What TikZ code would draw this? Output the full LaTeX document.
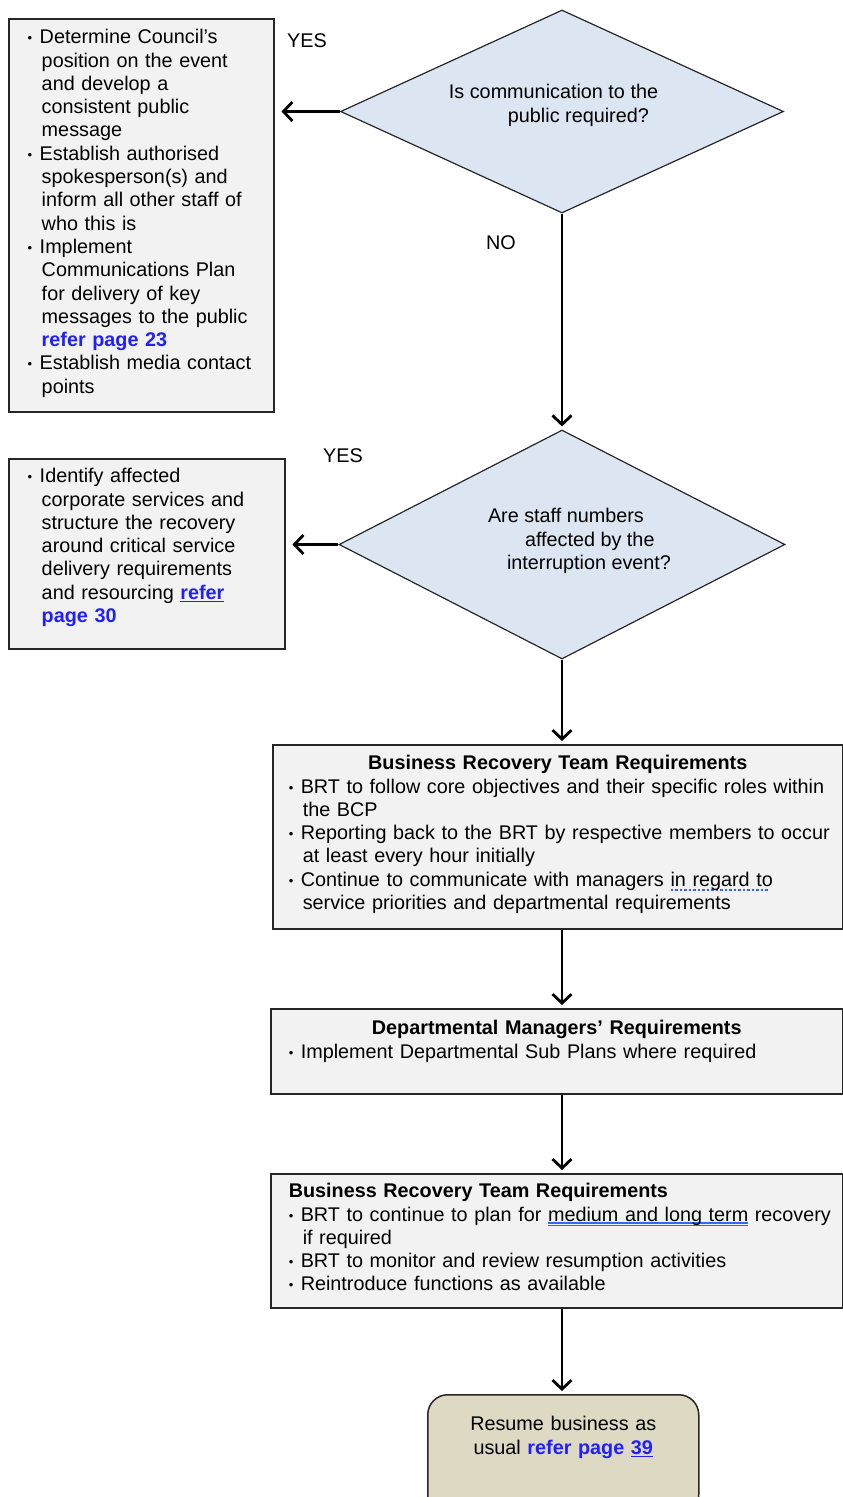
\documentclass[tikz,border=0pt]{standalone}
\usepackage{fontspec}
\setmainfont{Liberation Sans}
\usetikzlibrary{shapes.geometric,arrows.meta}
\definecolor{panelgray}{HTML}{F2F2F2}
\definecolor{askblue}{HTML}{DCE6F2}
\definecolor{resumetan}{HTML}{DDD9C3}
\definecolor{linkblue}{HTML}{1F1FFF}
\definecolor{markblue}{HTML}{3366FF}
\newcommand{\pad}[1]{\leftskip=#1\relax}
\newcommand{\itmhead}{\hangindent=14pt\hangafter=1\noindent\makebox[12pt][l]{\raisebox{1pt}{\fontsize{13}{13}\selectfont •}}}
\newcommand{\itm}{\par\itmhead}
\newcommand{\lnk}[1]{\textcolor{linkblue}{\bfseries #1}}
\newcommand{\ulnk}[1]{\setbox0=\hbox{#1}\rlap{\textcolor{linkblue}{\rule[-3pt]{\wd0}{1.2pt}}}\box0\relax}
\newcommand{\dblul}[1]{\setbox0=\hbox{#1}\rlap{\textcolor{markblue}{\rule[-2.5pt]{\wd0}{1.3pt}}}\rlap{\textcolor{markblue}{\rule[-5.3pt]{\wd0}{1.3pt}}}\box0\relax}
\newcommand{\dotul}[1]{\setbox0=\hbox{#1}\rlap{\textcolor{markblue}{\hbox to \wd0{\leaders\hbox{\rule[-4.5pt]{2.5pt}{2pt}\kern2pt}\hfill}}}\box0\relax}

\begin{document}
\begin{tikzpicture}[x=1pt,y=-1pt,
    txt/.style={font=\fontsize{19.8}{23.3}\selectfont},
    panel/.style={txt,draw=black!85,line width=1.5pt,fill=panelgray,anchor=north west,inner sep=0pt,align=left},
    ask/.style={diamond,draw=black!85,line width=1.2pt,fill=askblue,inner sep=0pt},
    asktext/.style={txt,align=left,inner sep=0pt},
    resume/.style={txt,draw=black!85,line width=1.5pt,fill=resumetan,rounded corners=20pt,anchor=north west,inner sep=0pt,align=center},
    flow/.style={line width=2.8pt,-{Straight Barb[length=9pt,width=19pt]}}]
\useasboundingbox (0,0) rectangle (843,1497);
\clip (0,0) rectangle (843,1497);
\node[ask,minimum width=443pt,minimum height=203pt] (ask1) at (562,111.5) {};
\node[asktext] (ask1q) at (553.5,105.5) {Is communication to the\\\hspace*{59pt}public required?};
\node[ask,minimum width=446pt,minimum height=229pt] (ask2) at (562,544.5) {};
\node[asktext] (ask2q) at (579.5,541) {Are staff numbers\\\hspace*{37pt}affected by the\\\hspace*{19pt}interruption event?};
\node[panel,text width=265pt,text height=25pt,text depth=368pt] (comms) at (8,18) {\pad{19pt}%
  \itmhead Determine Council's\newline position on the event\newline and develop a\newline consistent public\newline message
  \itm Establish authorised\newline spokesperson(s) and\newline inform all other staff of\newline who this is
  \itm Implement\newline Communications Plan\newline for delivery of key\newline messages to the public\newline \lnk{refer page 23}
  \itm Establish media contact\newline points\par};
\node[panel,text width=276pt,text height=24pt,text depth=166pt] (staff) at (8,458) {\pad{19pt}%
  \itmhead Identify affected\newline corporate services and\newline structure the recovery\newline around critical service\newline delivery requirements\newline and resourcing \lnk{\ulnk{refer}}\newline \lnk{page 30}\par};
\node[panel,text width=570pt,text height=25pt,text depth=159pt] (brt1) at (272,744) {\pad{16pt}%
  {\centering\bfseries Business Recovery Team Requirements\par}
  \itm BRT to follow core objectives and their specific roles within\newline the BCP
  \itm Reporting back to the BRT by respective members to occur\newline at least every hour initially
  \itm Continue to communicate with managers \dotul{in regard to}\newline service priorities and departmental requirements\par};
\node[panel,text width=572pt,text height=26pt,text depth=59pt] (mgr) at (270,1008) {\pad{18pt}%
  {\centering\bfseries Departmental Managers’ Requirements\par}
  \itm Implement Departmental Sub Plans where required\par};
\node[panel,text width=572pt,text height=24pt,text depth=110pt] (brt2) at (270,1173) {\pad{18pt}%
  {\bfseries Business Recovery Team Requirements}\par
  \itm BRT to continue to plan for \dblul{medium and long term} recovery\newline if required
  \itm BRT to monitor and review resumption activities
  \itm Reintroduce functions as available\par};
\node[resume,text width=271pt,text height=36pt,text depth=84pt] (resume) at (427,1394) {Resume business as\\usual \lnk{refer page \ulnk{39}}};
\foreach \x/\y/\n/\t in {307/41/yes1/YES, 343/456/yes2/YES, 501/243/no1/NO}
  \node[txt] (\n) at (\x,\y) {\t};
\draw[flow,shorten >=7pt] (ask1.west) -- (ask1.west -| comms.east);
\draw[flow,shorten >=7pt] (ask2.west) -- (ask2.west -| staff.east);
\draw[flow,shorten >=3pt] (ask1.south) -- (ask2.north);
\foreach \s/\t in {ask2/brt1, brt1/mgr, mgr/brt2, brt2/resume}
  \draw[flow,shorten >=3pt] (\s.south -| ask2) -- (\t.north -| ask2);
\end{tikzpicture}
\end{document}
